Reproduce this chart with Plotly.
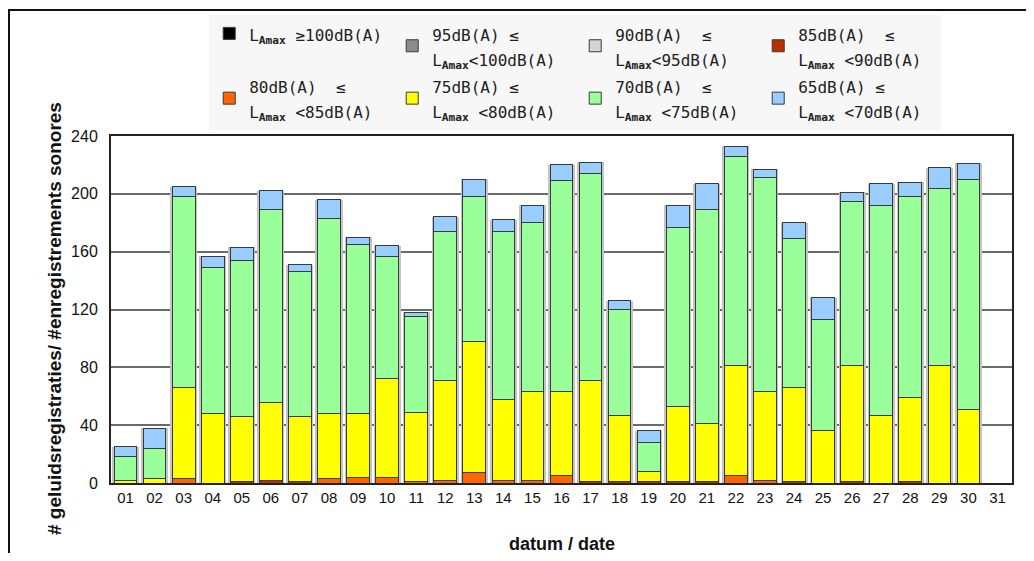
import plotly.graph_objects as go

days = [f"{d:02d}" for d in range(1, 32)]

# segment counts per class (bottom to top)
lv_100 = [0] * 31
lv_95 = [0] * 31
lv_90 = [0] * 31
lv_85 = [0, 0, 0, 0, 1, 2, 1, 0, 0, 0, 0, 0, 0, 0, 0, 0, 1, 1, 1, 1, 1, 0, 0, 1, 0, 1, 0, 1, 0, 0, 0]
lv_80 = [0, 0, 3, 0, 0, 0, 0, 3, 4, 4, 1, 2, 7, 2, 2, 5, 0, 0, 0, 0, 0, 5, 2, 0, 0, 0, 0, 0, 0, 0, 0]
lv_75 = [2, 3, 63, 48, 45, 54, 45, 45, 44, 68, 48, 69, 91, 56, 61, 58, 70, 46, 7, 52, 40, 76, 61, 65, 36, 80, 47, 58, 81, 51, 0]
lv_70 = [16, 21, 132, 101, 108, 133, 100, 135, 117, 85, 66, 103, 100, 116, 117, 146, 143, 73, 20, 124, 148, 145, 148, 103, 77, 114, 145, 139, 123, 159, 0]
lv_65 = [7, 14, 7, 8, 9, 13, 5, 13, 5, 7, 3, 10, 12, 8, 12, 11, 8, 6, 8, 15, 18, 7, 6, 11, 15, 6, 15, 10, 14, 11, 0]

series_names = [
    "L<sub><b>Amax</b></sub> ≥100dB(A)",
    "95dB(A) ≤<br>L<sub><b>Amax</b></sub><100dB(A)",
    "90dB(A)  ≤<br>L<sub><b>Amax</b></sub><95dB(A)",
    "85dB(A)  ≤<br>L<sub><b>Amax</b></sub> <90dB(A)",
    "80dB(A)  ≤<br>L<sub><b>Amax</b></sub> <85dB(A)",
    "75dB(A) ≤<br>L<sub><b>Amax</b></sub> <80dB(A)",
    "70dB(A)  ≤<br>L<sub><b>Amax</b></sub> <75dB(A)",
    "65dB(A) ≤<br>L<sub><b>Amax</b></sub> <70dB(A)",
]
series_values = [lv_100, lv_95, lv_90, lv_85, lv_80, lv_75, lv_70, lv_65]
series_colors = ["#000000", "#8c8c8c", "#d4d4d4", "#b83000", "#ff6600", "#ffff00", "#99ff99", "#99ccff"]

totals = [sum(s[i] for s in series_values) for i in range(31)]


def legend_label(txt):
    # smaller glyphs inside a taller line box
    return "<br>".join(f"<span style='font-size:16px'>{ln}</span>" for ln in txt.split("<br>"))


fig = go.Figure()

# soft grey halo behind each bar
fig.add_trace(go.Bar(
    x=days, y=totals, xaxis="x", yaxis="y", width=0.93,
    marker=dict(color="#c4c4c4", line=dict(width=0)),
    showlegend=False, hoverinfo="skip",
))

for name, vals, col in zip(series_names, series_values, series_colors):
    fig.add_trace(go.Bar(
        x=days, y=vals, name=legend_label(name), xaxis="x2", yaxis="y",
        marker=dict(color=col, line=dict(color="#3a3a3a", width=1)),
    ))

fig.update_layout(
    width=1018, height=545,
    margin=dict(l=103, r=14, t=128, b=70, autoexpand=False),
    paper_bgcolor="white", plot_bgcolor="white",
    barmode="stack", bargap=0.22,
    font=dict(family="Liberation Sans, Arial, sans-serif", size=14, color="#111"),
    xaxis=dict(
        type="category", range=[-0.5, 30.5],
        showticklabels=False, showgrid=False, zeroline=False, ticks="",
    ),
    xaxis2=dict(
        type="category", overlaying="x", side="bottom", range=[-0.5, 30.5],
        showgrid=False, zeroline=False, ticks="",
        showline=True, linecolor="#222", linewidth=2, mirror=True,
        tickfont=dict(size=15, color="#111"),
    ),
    yaxis=dict(
        range=[0, 240], tickvals=[0, 40, 80, 120, 160, 200, 240],
        showgrid=True, gridcolor="#6a6a6a", gridwidth=1.5,
        showline=True, linecolor="#222", linewidth=2, mirror=True,
        zeroline=False, ticks="", ticklabelstandoff=8,
        tickfont=dict(size=16, color="#111"),
    ),
    legend=dict(
        orientation="h", x=0.109, y=1.35, xanchor="left", yanchor="top",
        traceorder="normal", entrywidth=138, entrywidthmode="pixels",
        bgcolor="#f7f7f7", borderwidth=0,
        font=dict(family="DejaVu Sans Mono", size=19, color="#222"),
        itemclick=False, itemdoubleclick=False,
    ),
    shapes=[dict(
        type="rect", xref="paper", yref="paper",
        x0=-0.1132, x1=1.2, y0=-0.4, y1=1.363,
        line=dict(color="#111", width=2), fillcolor="rgba(0,0,0,0)", layer="below",
    )],
    annotations=[
        dict(text="<b>datum / date</b>", xref="paper", yref="paper",
             x=0.5, y=-0.176, xanchor="center", yanchor="middle",
             showarrow=False, font=dict(size=18, color="#111")),
        dict(text="<b># geluidsregistraties/ #enregistrements sonores</b>",
             xref="paper", yref="paper", x=-0.062, y=0.473,
             xanchor="center", yanchor="middle", textangle=-90,
             showarrow=False, font=dict(size=19, color="#111")),
    ],
)

fig.write_html("out.html")
